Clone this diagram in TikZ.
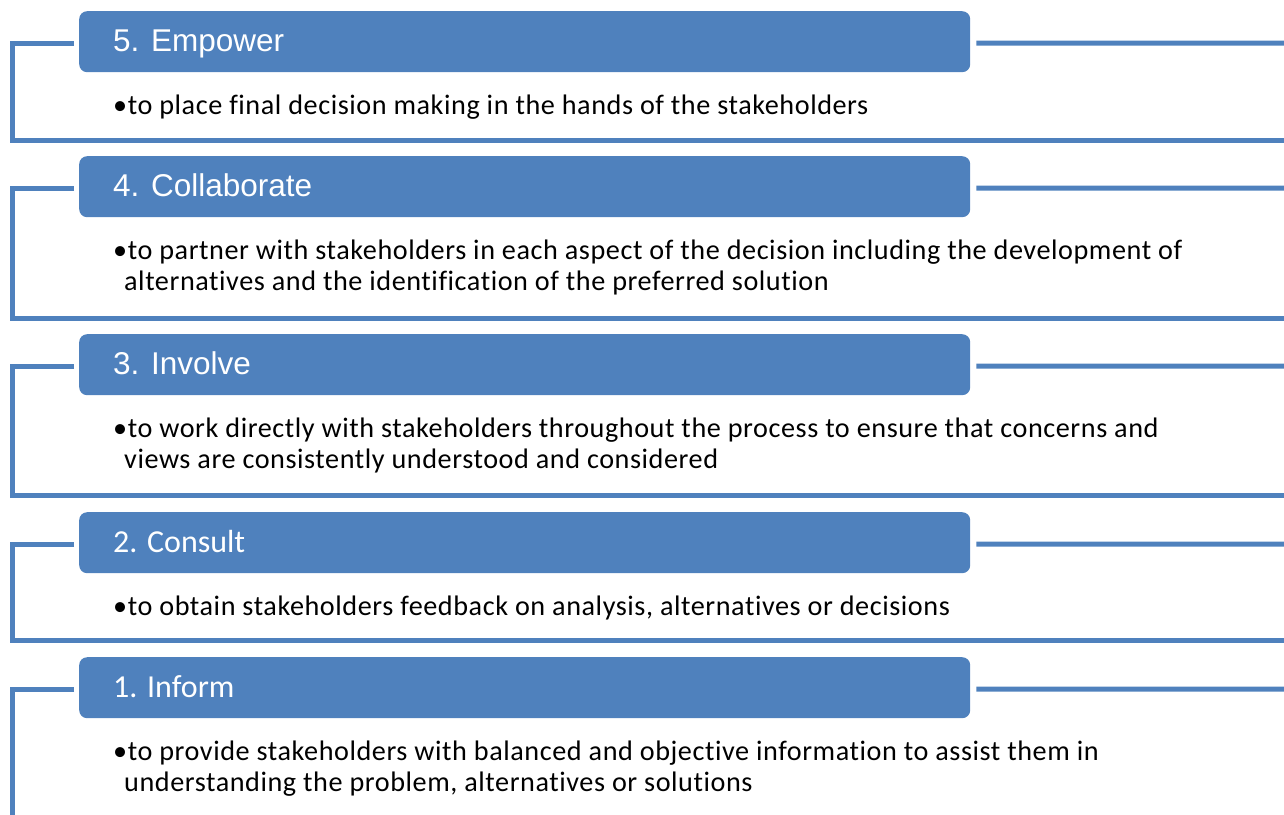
\documentclass[tikz,border=0pt]{standalone}
\usepackage{fontspec}
\setmainfont{Carlito}
\newfontfamily\arialf{Liberation Sans}
\newfontfamily\bodyf[LetterSpace=2,Ligatures=NoCommon,RawFeature={-liga}]{Carlito}
\definecolor{blu}{HTML}{4F81BD}
\begin{document}
\begin{tikzpicture}[x=1pt,y=-1pt,
 hdr/.style={fill=blu, rounded corners=8pt, minimum width=891pt, minimum height=61pt, inner sep=0pt, anchor=north west},
 htxt/.style={anchor=base west, inner sep=0pt, text=white, font=\arialf\fontsize{31.5}{36}\selectfont},
 htxtc/.style={anchor=base west, inner sep=0pt, text=white, font=\fontsize{32}{38}\selectfont},
 body/.style={anchor=base west, inner sep=0pt, font=\bodyf\fontsize{28.2}{31}\selectfont, text=black},
 bracket/.style={draw=blu, line width=5pt, line join=miter}
]
\useasboundingbox (0,0) rectangle (1284,814);

% ---- Level 5
\node[hdr] (h5) at (79,11) {};
\node[htxt] (t5) at (113,51) {5. Empower};
\node[body] (b5) at (113,114) {•to place final decision making in the hands of the stakeholders};
\coordinate (c5) at (12.5,140);
\coordinate (e5) at (1290,140);
\coordinate (r5) at (1290,43);
\draw[bracket] ([shift={(-5pt,-1.5pt)}]h5.west) -| (c5) -- (e5);
\draw[bracket] ([shift={(6pt,-1.5pt)}]h5.east) -- (r5);

% ---- Level 4
\node[hdr] (h4) at (79,156) {};
\node[htxt] (t4) at (113,196) {4. Collaborate};
\node[body] (b4) at (113,259) {•to partner with stakeholders in each aspect of the decision including the development of};
\node[body] (b4b) at (124,290) {alternatives and the identification of the preferred solution};
\coordinate (c4) at (12.5,318);
\coordinate (e4) at (1290,318);
\coordinate (r4) at (1290,188);
\draw[bracket] ([shift={(-5pt,-1.5pt)}]h4.west) -| (c4) -- (e4);
\draw[bracket] ([shift={(6pt,-1.5pt)}]h4.east) -- (r4);

% ---- Level 3
\node[hdr] (h3) at (79,334) {};
\node[htxt] (t3) at (113,374) {3. Involve};
\node[body] (b3) at (113,437) {•to work directly with stakeholders throughout the process to ensure that concerns and};
\node[body] (b3b) at (124,468) {views are consistently understood and considered};
\coordinate (c3) at (12.5,495);
\coordinate (e3) at (1290,495);
\coordinate (r3) at (1290,366);
\draw[bracket] ([shift={(-5pt,-1.5pt)}]h3.west) -| (c3) -- (e3);
\draw[bracket] ([shift={(6pt,-1.5pt)}]h3.east) -- (r3);

% ---- Level 2
\node[hdr] (h2) at (79,512) {};
\node[htxtc] (t2) at (113,552) {2. Consult};
\node[body] (b2) at (113,615) {•to obtain stakeholders feedback on analysis, alternatives or decisions};
\coordinate (c2) at (12.5,640);
\coordinate (e2) at (1290,640);
\coordinate (r2) at (1290,544);
\draw[bracket] ([shift={(-5pt,-1.5pt)}]h2.west) -| (c2) -- (e2);
\draw[bracket] ([shift={(6pt,-1.5pt)}]h2.east) -- (r2);

% ---- Level 1
\node[hdr] (h1) at (79,657) {};
\node[htxtc] (t1) at (113,697) {1. Inform};
\node[body] (b1) at (113,760) {•to provide stakeholders with balanced and objective information to assist them in};
\node[body] (b1b) at (124,791) {understanding the problem, alternatives or solutions};
\coordinate (c1) at (12.5,820);
\coordinate (r1) at (1290,689);
\draw[bracket] ([shift={(-5pt,-1.5pt)}]h1.west) -| (c1);
\draw[bracket] ([shift={(6pt,-1.5pt)}]h1.east) -- (r1);
\end{tikzpicture}
\end{document}
